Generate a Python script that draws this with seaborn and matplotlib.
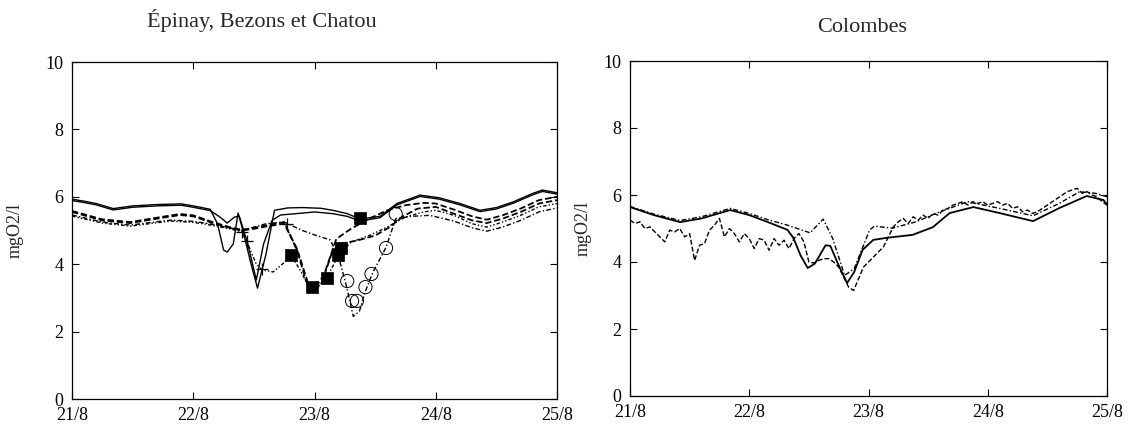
import numpy as np
import pandas as pd
import seaborn as sns
import matplotlib.pyplot as plt

# ---- Épinay, Bezons et Chatou: simulated series ----
ep1_t = [21.0, 21.1, 21.2, 21.34, 21.5, 21.7, 21.9, 22.0, 22.14, 22.2, 22.25, 22.28, 22.33, 22.37, 22.41,
         22.47, 22.53, 22.6, 22.67, 22.78, 22.9, 23.05, 23.15, 23.27, 23.375, 23.54, 23.68, 23.87, 24.03,
         24.2, 24.365, 24.5, 24.64, 24.8, 24.88, 25.0]
ep1_v = [5.93, 5.87, 5.80, 5.65, 5.73, 5.77, 5.79, 5.73, 5.63, 5.2, 4.42, 4.36, 4.6, 5.52, 5.0,
         4.1, 3.29, 4.3, 5.6, 5.67, 5.68, 5.66, 5.6, 5.5, 5.34, 5.42, 5.8, 6.05, 5.97,
         5.8, 5.6, 5.68, 5.85, 6.1, 6.2, 6.12]

ep2_t = [21.0, 21.1, 21.2, 21.34, 21.5, 21.7, 21.9, 22.0, 22.14, 22.22, 22.28, 22.34, 22.38, 22.45, 22.52,
         22.58, 22.65, 22.72, 22.85, 23.0, 23.15, 23.27, 23.375, 23.54, 23.68, 23.87, 24.03, 24.2,
         24.365, 24.5, 24.64, 24.8, 24.88, 25.0]
ep2_v = [5.89, 5.83, 5.76, 5.61, 5.69, 5.73, 5.75, 5.69, 5.59, 5.4, 5.22, 5.4, 5.42, 4.6, 3.53,
         4.6, 5.3, 5.46, 5.5, 5.55, 5.5, 5.42, 5.28, 5.38, 5.76, 6.01, 5.93, 5.76,
         5.56, 5.64, 5.81, 6.06, 6.16, 6.08]

bz1_t = [21.0, 21.25, 21.48, 21.7, 21.89, 22.0, 22.16, 22.3, 22.4, 22.5, 22.6, 22.75, 22.85, 22.93, 22.99,
         23.06, 23.14, 23.2, 23.35, 23.5, 23.62, 23.72, 23.85, 24.0, 24.15, 24.3, 24.42, 24.55, 24.7,
         24.85, 25.0]
bz1_v = [5.55, 5.3, 5.22, 5.35, 5.46, 5.42, 5.22, 5.08, 5.0, 5.05, 5.12, 5.2, 4.5, 3.5, 3.15,
         3.45, 4.3, 4.6, 4.7, 4.85, 5.1, 5.4, 5.65, 5.7, 5.5, 5.3, 5.22, 5.35, 5.55,
         5.8, 5.9]

bz2_t = [21.0, 21.25, 21.48, 21.7, 21.89, 22.0, 22.16, 22.3, 22.4, 22.5, 22.6, 22.75, 22.87, 22.95, 23.0,
         23.08, 23.18, 23.3, 23.45, 23.6, 23.75, 23.9, 24.0, 24.15, 24.3, 24.42, 24.55, 24.7, 24.85, 25.0]
bz2_v = [5.58, 5.33, 5.25, 5.38, 5.49, 5.45, 5.25, 5.1, 5.02, 5.08, 5.15, 5.25, 4.3, 3.4, 3.25,
         3.7, 4.75, 5.05, 5.35, 5.6, 5.75, 5.82, 5.8, 5.62, 5.42, 5.32, 5.45, 5.65, 5.9, 6.0]

ch1_t = [21.0, 21.25, 21.48, 21.7, 21.82, 22.0, 22.1, 22.3, 22.4, 22.6, 22.75, 22.9, 23.0, 23.13, 23.2,
         23.26, 23.32, 23.37, 23.42, 23.48, 23.59, 23.67, 23.8, 23.95, 24.15, 24.3, 24.42, 24.55, 24.7,
         24.85, 25.0]
ch1_v = [5.46, 5.25, 5.16, 5.26, 5.31, 5.27, 5.22, 5.08, 5.0, 5.2, 5.25, 5.0, 4.87, 4.72, 4.2,
         3.4, 2.45, 2.6, 3.2, 3.75, 4.5, 5.35, 5.42, 5.45, 5.28, 5.08, 4.98, 5.1, 5.3,
         5.55, 5.67]

ch2_t = [21.0, 21.25, 21.48, 21.7, 21.82, 22.0, 22.1, 22.3, 22.4, 22.45, 22.52, 22.57, 22.66, 22.75, 22.81,
         22.9, 22.97, 23.05, 23.1, 23.2, 23.3, 23.45, 23.6, 23.75, 23.9, 24.0, 24.15, 24.3, 24.42,
         24.55, 24.7, 24.85, 25.0]
ch2_v = [5.43, 5.22, 5.13, 5.23, 5.28, 5.24, 5.19, 5.05, 4.96, 4.6, 4.0, 3.83, 3.77, 4.05, 4.27,
         3.7, 3.2, 3.4, 3.6, 4.27, 4.65, 4.85, 5.1, 5.4, 5.55, 5.6, 5.45, 5.2, 5.1,
         5.25, 5.45, 5.7, 5.8]

# ---- observations (markers) ----
obs_ep_t = [22.40, 22.44, 22.57, 22.77]
obs_ep_v = [4.96, 4.7, 3.85, 5.2]
obs_bz_t = [22.81, 22.98, 23.10, 23.19, 23.22, 23.375]
obs_bz_v = [4.27, 3.32, 3.6, 4.27, 4.48, 5.37]
obs_ch_t = [23.27, 23.31, 23.35, 23.42, 23.47, 23.59, 23.67]
obs_ch_v = [3.50, 2.91, 2.91, 3.32, 3.71, 4.48, 5.49]

# ---- Colombes ----
col_sim1_t = [21.0, 21.2, 21.42, 21.6, 21.84, 22.0, 22.15, 22.32, 22.37, 22.43, 22.49, 22.55, 22.64, 22.68,
              22.75, 22.82, 22.88, 22.95, 23.04, 23.15, 23.37, 23.54, 23.68, 23.88, 24.1, 24.38, 24.6,
              24.83, 24.97, 25.0]
col_sim1_v = [5.64, 5.4, 5.19, 5.3, 5.55, 5.4, 5.2, 4.96, 4.72, 4.2, 3.82, 3.95, 4.5, 4.48,
              3.9, 3.37, 3.7, 4.36, 4.66, 4.72, 4.81, 5.04, 5.46, 5.64, 5.46, 5.22, 5.61,
              5.97, 5.85, 5.72]

col_sim2_t = [21.0, 21.2, 21.42, 21.6, 21.84, 22.0, 22.15, 22.32, 22.51, 22.62, 22.7, 22.8, 22.88, 23.01,
              23.05, 23.2, 23.4, 23.6, 23.83, 24.1, 24.38, 24.6, 24.77, 24.9, 25.0]
col_sim2_v = [5.66, 5.43, 5.24, 5.35, 5.6, 5.45, 5.27, 5.1, 4.87, 5.28, 4.7, 3.6, 3.8, 4.96,
              5.07, 5.01, 5.2, 5.5, 5.8, 5.6, 5.38, 5.75, 6.1, 6.05, 5.95]

# hourly measurements
col_obs_v = [5.25, 5.15, 5.2, 5.0, 5.05, 4.9, 4.75, 4.6, 4.95, 4.9, 5.0, 4.75,
             4.85, 4.05, 4.5, 4.55, 4.95, 5.1, 5.3, 4.75, 5.0, 4.85, 4.6, 4.85,
             4.7, 4.4, 4.7, 4.65, 4.35, 4.7, 4.5, 4.65, 4.4, 4.7, 4.85, 4.6,
             4.0, 3.97, 4.05, 4.1, 4.1, 4.0, 3.85, 3.55, 3.25, 3.15, 3.5, 3.85,
             4.0, 4.15, 4.3, 4.45, 4.75, 5.05, 5.2, 5.3, 5.15, 5.35, 5.25, 5.4,
             5.3, 5.45, 5.4, 5.55, 5.6, 5.7, 5.75, 5.8, 5.7, 5.8, 5.75, 5.8,
             5.7, 5.75, 5.8, 5.7, 5.75, 5.6, 5.65, 5.5, 5.55, 5.45, 5.5, 5.6,
             5.7, 5.8, 5.9, 6.0, 6.1, 6.15, 6.2, 6.05, 6.1, 6.0, 5.95, 5.8, 5.7]
col_obs_t = 21 + np.arange(len(col_obs_v)) / 24

day_ticks = [21, 22, 23, 24, 25]
day_labels = ["21/8", "22/8", "23/8", "24/8", "25/8"]
y_ticks = [0, 2, 4, 6, 8, 10]

sns.set_theme(style="ticks")
plt.rcParams['font.family'] = ['Liberation Serif', 'DejaVu Serif']

DASH = (0, (3.5, 1.6))
DASHDOT = (0, (3.5, 1.6, 1, 1.6))
DASHDOTDOT = (0, (2.5, 1.5, 1, 1.5, 1, 1.5))

fig = plt.figure(figsize=(11.3, 4.32), dpi=100)
ax1 = fig.add_axes([72 / 1130, 33 / 432, 485 / 1130, 337 / 432])
ax2 = fig.add_axes([630 / 1130, 36 / 432, 477 / 1130, 335 / 432])


def line(ax, t, v, ls, lw):
    sns.lineplot(x=t, y=v, ax=ax, color="black", linewidth=lw, linestyle=ls,
                 sort=False, estimator=None)


line(ax1, ep1_t, ep1_v, "-", 1.0)
line(ax1, ep2_t, ep2_v, "-", 1.0)
line(ax1, bz1_t, bz1_v, DASH, 1.3)
line(ax1, bz2_t, bz2_v, DASH, 1.3)
line(ax1, ch1_t, ch1_v, DASHDOT, 1.0)
line(ax1, ch2_t, ch2_v, DASHDOTDOT, 1.0)

sns.scatterplot(x=obs_ep_t, y=obs_ep_v, ax=ax1, marker="+", s=70, color="black", linewidth=0.9, zorder=5)
sns.scatterplot(x=obs_bz_t, y=obs_bz_v, ax=ax1, marker="s", s=72, color="black", edgecolor="black",
                linewidth=0.5, zorder=5)
sns.scatterplot(x=obs_ch_t, y=obs_ch_v, ax=ax1, marker="o", s=90, color="none", edgecolor="black",
                linewidth=0.7, zorder=5)

line(ax2, col_sim1_t, col_sim1_v, "-", 1.3)
line(ax2, col_sim2_t, col_sim2_v, DASHDOT, 1.0)
line(ax2, col_obs_t, col_obs_v, DASH, 1.0)

for ax in (ax1, ax2):
    ax.set_xlim(21, 25)
    ax.set_ylim(0, 10)
    ax.set_xticks(day_ticks)
    ax.set_xticklabels(day_labels)
    ax.set_yticks(y_ticks)
    ax.tick_params(direction="in", top=True, right=True, length=5, width=0.8,
                   labelsize=13, colors="black", pad=6)
    ax.minorticks_off()
    for sp in ax.spines.values():
        sp.set_visible(True)
        sp.set_linewidth(0.9)
        sp.set_color("black")
    ax.set_xlabel("")
    ax.set_ylabel("")
    ax.grid(False)

fig.text(15 / 1130, 1 - 230 / 432, "mgO2/l", rotation=90, ha="center", va="center", fontsize=13)
fig.text(583 / 1130, 1 - 228 / 432, "mgO2/l", rotation=90, ha="center", va="center", fontsize=13)
fig.text(262 / 1130, 1 - 20 / 432, "Épinay, Bezons et Chatou", ha="center", va="center", fontsize=16)
fig.text(862 / 1130, 1 - 28 / 432, "Colombes", ha="center", va="center", fontsize=16)

fig.savefig("out.png", dpi=100)
